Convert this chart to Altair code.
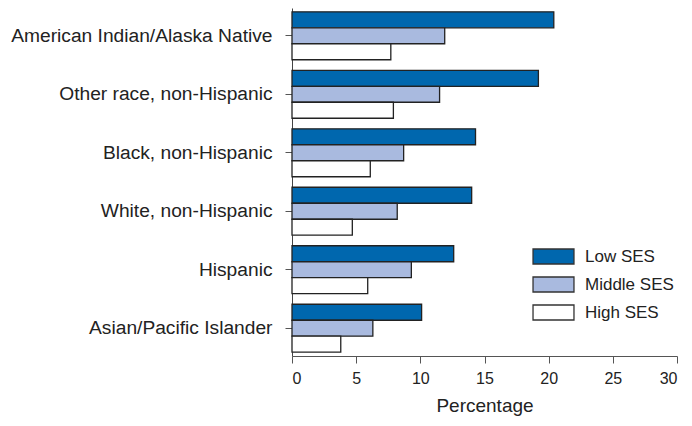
import altair as alt
import pandas as pd

groups = ["American Indian/Alaska Native", "Other race, non-Hispanic", "Black, non-Hispanic",
          "White, non-Hispanic", "Hispanic", "Asian/Pacific Islander"]
series = ["Low SES", "Middle SES", "High SES"]
low = [20.4, 19.2, 14.3, 14.0, 12.6, 10.1]
mid = [11.9, 11.5, 8.7, 8.2, 9.3, 6.3]
high = [7.7, 7.9, 6.1, 4.7, 5.9, 3.8]
colors = ["#0067AE", "#A9BADF", "#FFFFFF"]
x_ticks = [0, 5, 10, 15, 20, 25, 30]

rows = []
for s, vals in zip(series, [low, mid, high]):
    for g, v in zip(groups, vals):
        rows.append({"group": g, "SES": s, "value": v})
df = pd.DataFrame(rows)

FONT = "Liberation Sans"

chart = alt.Chart(df).mark_bar(stroke="#222222", strokeWidth=1.3).encode(
    y=alt.Y("group:N", sort=groups, title=None,
            scale=alt.Scale(paddingInner=0.18, paddingOuter=0.065),
            axis=alt.Axis(labelFont=FONT, labelFontSize=19.2, labelColor="#222222",
                          labelPadding=13, tickSize=7, tickColor="#555555",
                          domainColor="#444444", labelLimit=400)),
    yOffset=alt.YOffset("SES:N", sort=series, scale=alt.Scale(paddingInner=0, paddingOuter=0)),
    x=alt.X("value:Q", title="Percentage",
            scale=alt.Scale(domain=[0, 30], nice=False),
            axis=alt.Axis(values=x_ticks, labelFont=FONT, labelFontSize=16, labelColor="#222222",
                          tickSize=7, tickColor="#555555", domainColor="#555555",
                          labelPadding=7, grid=False, titleFont=FONT, titleFontSize=19,
                          titleFontWeight="normal", titleColor="#222222", titlePadding=10)),
    fill=alt.Fill("SES:N", sort=series,
                  scale=alt.Scale(domain=series, range=colors),
                  legend=alt.Legend(title=None, orient="none", legendX=253, legendY=240,
                                    symbolType="M-2.73,-1H2.73V1H-2.73Z", symbolSize=225,
                                    symbolStrokeColor="#333333", symbolStrokeWidth=1.3,
                                    symbolOpacity=1, labelFont=FONT, labelFontSize=17,
                                    labelColor="#222222", rowPadding=7, labelOffset=23,
                                    padding=0)),
).properties(
    width=385, height=348,
    autosize=alt.AutoSizeParams(type="none"),
    padding={"left": 284, "top": 0, "right": 7, "bottom": 62},
).configure_view(stroke=None).configure_axis(grid=False)

chart.save("out.html", embed_options={"renderer": "svg", "actions": False})
